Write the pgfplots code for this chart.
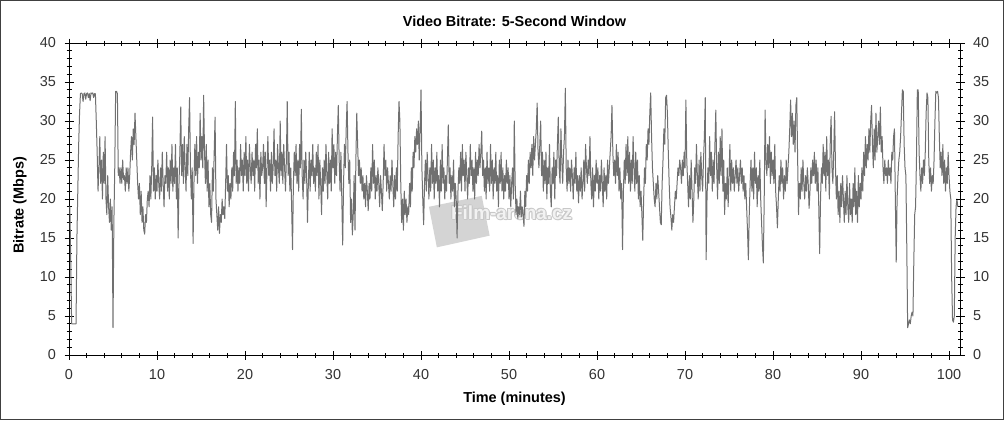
\documentclass[border=0pt]{standalone}
\usepackage{pgfplots}
\pgfplotsset{compat=1.18}
\usepackage{pgfplotstable}
\usepackage{fontspec}
\setmainfont{Liberation Sans}
\definecolor{linegray}{RGB}{112,112,112}
\definecolor{wmgray}{RGB}{212,212,212}
\definecolor{wmedge}{RGB}{200,200,200}
\definecolor{wmfill}{RGB}{242,242,242}
\tikzset{wm/.style={text=wmedge, font=\bfseries\fontsize{19}{19}\selectfont}}
\pgfplotstableread[row sep=\\,header=false]{
19\\19\\12\\4\\4\\4\\4\\4\\4\\15\\
21\\27\\31\\33.5\\33.6\\33.5\\32.5\\33.5\\33.6\\32.8\\
33.5\\33.6\\33\\33.5\\32.6\\33.6\\33.5\\33.6\\33\\33.5\\
33.5\\30\\26\\21\\24\\28\\22\\25\\20\\26\\
22\\28\\20\\18\\23\\19\\17\\20\\16\\19\\
3.5\\17\\24\\33.8\\33.8\\33.5\\23\\24\\22\\24\\
22\\25\\22.5\\23\\21\\24\\22\\24\\21\\23\\
26\\28\\25\\29\\27\\31\\28\\25\\22\\20\\
22\\18\\21\\17\\19\\16\\15.5\\18\\17\\20\\
21\\19\\23\\20\\24\\30.5\\21\\24\\20\\23\\
21\\25\\22\\20\\24\\21\\26\\22\\19\\23\\
22\\26\\21\\24\\20\\25\\22\\27\\21\\24\\
22\\27\\20\\24\\15\\22\\26\\31.8\\23\\27\\
22\\28\\24\\21\\27\\23\\29\\33\\24\\20\\
24\\14.3\\22\\27\\23\\28\\22\\26\\24\\31\\
25\\28\\24\\33.3\\26\\22\\27\\21\\25\\19\\
22\\18\\17\\24\\21\\26\\30.5\\20\\18\\16\\
19\\15.6\\18\\17\\20\\18\\19\\17.5\\22\\27\\
21\\23\\19\\22\\20\\24\\21\\26\\23\\32.5\\
22\\25\\21\\24\\22\\27\\23\\25\\21\\26\\
23\\28\\22\\25\\21\\27\\24\\22\\26\\23\\
25\\21\\27\\24\\29\\22\\25\\20\\26\\23\\
24\\27\\22\\26\\19\\24\\28\\23\\25\\21\\
26\\22\\24\\29\\23\\25\\21\\27\\24\\22\\
30\\23\\26\\22\\27\\24\\21\\25\\32.5\\23\\
26\\21\\24\\19\\13.5\\22\\26\\23\\27\\22\\
25\\21\\27\\24\\31.5\\23\\20\\25\\22\\26\\
23\\17\\22\\26\\21\\25\\23\\27\\22\\24\\
21\\26\\23\\27\\20\\25\\22\\18\\24\\21\\
25\\22\\27\\23\\20\\26\\22\\25\\21\\29\\
24\\27\\22\\26\\23\\28\\32\\25\\21\\26\\
20\\14.1\\22\\27\\24\\29\\32.5\\26\\22\\25\\
17\\20\\15.4\\18\\23\\16\\25\\31\\27\\23\\
25\\22\\24\\21\\23\\20\\22\\19\\23\\21\\
18.5\\22\\20\\24\\21\\27\\22\\25\\20\\23\\
21\\24\\22\\19\\23\\21\\18.5\\22\\27\\23\\
25\\21\\24\\22\\20\\23\\21\\25\\22\\19\\
23\\20\\24\\21\\28\\32.5\\30\\22\\17\\20\\
16\\21\\18\\20\\17\\19\\18\\22\\19\\24\\
21\\26\\24\\28\\26\\29\\27\\30\\25\\29\\
34\\24\\20\\16.7\\22\\25\\21\\26\\23\\20\\
24\\21\\27\\22\\25\\20\\24\\22\\26\\21\\
23\\19\\25\\21\\27\\22\\24\\20\\23\\21\\
25\\29.5\\22\\24\\20\\23\\21\\25\\19\\22\\
20\\15\\21\\24\\22\\26\\21\\27\\23\\25\\
21\\26\\23\\20\\24\\22\\27\\23\\25\\21\\
24\\20\\26\\22\\25\\23\\27\\24\\26\\28.7\\
23\\25\\21\\24\\20\\26\\22\\24\\21\\27\\
22\\25\\20\\24\\22\\26\\21\\23\\19\\25\\
22\\26\\21\\24\\20\\23\\21\\25\\22\\24\\
20\\23\\19\\22\\24\\20\\30\\22\\18\\20\\
17.5\\19\\18\\21\\17.7\\19\\18\\16.5\\21\\19\\
23\\21\\25\\22\\26\\24\\27\\23\\28\\25\\
27\\29\\32.3\\26\\24\\27\\30\\23\\26\\21\\
25\\22\\26\\20\\24\\22\\27\\21\\19\\24\\
22\\26\\20\\25\\23\\27\\30.5\\24\\22\\29\\
25\\22\\26\\28\\34.2\\24\\21\\25\\22\\24\\
21\\25\\23\\20\\24\\22\\26\\21\\23\\19.5\\
23\\21\\24\\20\\22\\25\\21\\27\\24\\22\\
25\\23\\28\\22\\20\\24\\19\\23\\21\\25\\
22\\24\\20\\23\\21\\25\\22\\19\\24\\21\\
23\\20\\25\\22\\24\\26\\28\\32\\26\\23\\
25\\22\\27\\23\\26\\21\\24\\20\\22\\13.5\\
21\\25\\22\\27\\23\\28\\22\\26\\21\\25\\
22\\28\\24\\21\\26\\22\\25\\20\\23\\19\\
21\\18\\14.7\\20\\24\\22\\27\\25\\29\\27\\
31\\33.6\\28\\24\\22\\20\\19\\22\\20\\23\\
21\\19\\17\\16.7\\22\\25\\29\\27\\33\\33.3\\
31\\26\\22\\19\\17.7\\16\\18\\17\\19\\21\\
20\\22\\24\\23\\25\\24\\22\\25\\23\\26\\
24\\32.7\\25\\22\\19\\23\\20\\25\\21\\17\\
20\\24\\22\\27\\23\\20\\25\\21\\26\\23\\
21\\25\\28\\33\\12.2\\20\\24\\22\\28\\23\\
26\\21\\25\\22\\27\\31.4\\24\\20\\26\\22\\
28\\23\\29\\21\\25\\18\\22\\20\\24\\19\\
23\\27\\21\\25\\22\\24\\21\\23\\25\\22\\
24\\21\\23\\25\\22\\24\\21\\23\\20\\22\\
19\\16\\12.2\\18\\22\\25\\21\\24\\20\\26\\
22\\24\\19\\23\\21\\25\\20\\17\\14\\11.8\\
20\\31.4\\25\\23\\27\\24\\28\\22\\26\\23\\
25\\22\\27\\21\\19\\16.3\\20\\23\\21\\25\\
22\\24\\20\\23\\21\\25\\22\\24\\26\\29\\
32.7\\28\\31\\27\\30\\26\\32\\33\\25\\18\\
22\\20\\24\\21\\25\\22\\20\\23\\21\\24\\
22\\18.8\\21\\24\\22\\25\\23\\26\\22\\25\\
21\\24\\19\\13\\20\\24\\22\\27\\23\\26\\
21\\28\\23\\25\\20\\27\\30.6\\24\\22\\26\\
31.2\\24\\20\\23\\18\\21\\17\\22\\19\\23\\
20\\17\\21\\18\\23\\19\\17\\22\\18\\20\\
17\\22\\19\\24\\18\\21\\17\\23\\19\\22\\
20\\24\\21\\26\\23\\28\\24\\27\\25\\29\\
26\\30\\32\\27\\24\\29\\25\\31\\26\\28\\
30\\27\\31.8\\26\\28\\24\\22\\25\\23\\24\\
22\\25\\23\\24\\22\\26\\25\\28\\29\\20\\
11.9\\20\\23\\25\\26\\28\\31\\34\\33.8\\27\\
24\\23\\14\\3.5\\4\\4.5\\4\\5\\5.5\\5\\
12\\18\\19\\25\\34\\34\\26\\23\\21\\24\\
22\\25\\23\\26\\31\\33.6\\33\\25\\22\\24\\
21\\23\\22\\25\\30\\33.8\\33.6\\33.8\\33\\28\\
24\\26\\23\\27\\22\\25\\21\\24\\22\\26\\
23\\21\\20\\10\\4.5\\4.2\\5\\15\\19\\20\\
19\\
}\bitrate
\begin{document}
\begin{tikzpicture}[x=1bp,y=1bp]
\useasboundingbox (0,0) rectangle (1004,420);
\begin{axis}[
  at={(69bp,65bp)}, anchor=south west,
  scale only axis, width=891bp, height=312bp,
  xmin=0, xmax=101.25, ymin=0, ymax=40,
  xtick={0,10,...,100}, ytick={0,5,...,40},
  minor x tick num=4, minor y tick num=4,
  tick align=center,
  major tick length=9bp, minor tick length=5bp,
  xtick pos=both, xticklabel pos=lower,
  ytick pos=both, yticklabel pos=left,
  axis line style={black, line width=0.8bp},
  every tick/.style={black, line width=0.8bp},
  tick label style={font=\fontsize{14.5}{16}\selectfont, text=black!80},
  xticklabel style={yshift=-6bp},
  yticklabel style={xshift=-5bp},
  /pgf/number format/assume math mode=true,
  title={Video Bitrate: 5-Second Window},
  title style={font=\bfseries\fontsize{14.5}{16}\selectfont, at={(axis description cs:0.5,1.035)}, anchor=base},
  xlabel={Time (minutes)},
  xlabel style={font=\bfseries\fontsize{14.5}{16}\selectfont, at={(axis description cs:0.5,-0.151)}, anchor=base},
  ylabel={Bitrate (Mbps)},
  ylabel style={font=\bfseries\fontsize{14.5}{16}\selectfont, at={(axis description cs:-0.055,0.48)}, anchor=center},
  clip=true,
]
\fill[wmgray] (axis cs:40.9,19.0) -- (axis cs:46.9,20.4) -- (axis cs:47.8,15.3) -- (axis cs:41.8,13.8) -- cycle;
\node[wm, xshift=-1bp] at (axis cs:50.3,18.2) {Film-arena.cz};
\node[wm, xshift=1bp] at (axis cs:50.3,18.2) {Film-arena.cz};
\node[wm, yshift=-1bp] at (axis cs:50.3,18.2) {Film-arena.cz};
\node[wm, yshift=1bp] at (axis cs:50.3,18.2) {Film-arena.cz};
\node[wm, xshift=1bp, yshift=-1bp] at (axis cs:50.3,18.2) {Film-arena.cz};
\node[wm, xshift=-1bp, yshift=1bp] at (axis cs:50.3,18.2) {Film-arena.cz};
\node[text=wmfill, font=\bfseries\fontsize{19}{19}\selectfont] at (axis cs:50.3,18.2) {Film-arena.cz};
\addplot[linegray, line width=1bp, line join=round] table[x expr=\coordindex*0.1, y index=0] {\bitrate};
\end{axis}
\begin{axis}[
  at={(69bp,65bp)}, anchor=south west,
  scale only axis, width=891bp, height=312bp,
  xmin=0, xmax=101.25, ymin=0, ymax=40,
  axis x line=none, axis y line*=right,
  ytick={0,5,...,40}, minor y tick num=4,
  tick align=center,
  major tick length=9bp, minor tick length=5bp,
  axis line style={black, line width=0.8bp},
  every tick/.style={black, line width=0.8bp},
  tick label style={font=\fontsize{14.5}{16}\selectfont, text=black!80},
  yticklabel style={xshift=5bp},
  /pgf/number format/assume math mode=true,
]
\addplot[draw=none] coordinates {(0,0)};
\end{axis}
\draw[black!75, line width=1.2bp] (0.6,0.6) rectangle (1003.4,419.4);
\end{tikzpicture}
\end{document}
